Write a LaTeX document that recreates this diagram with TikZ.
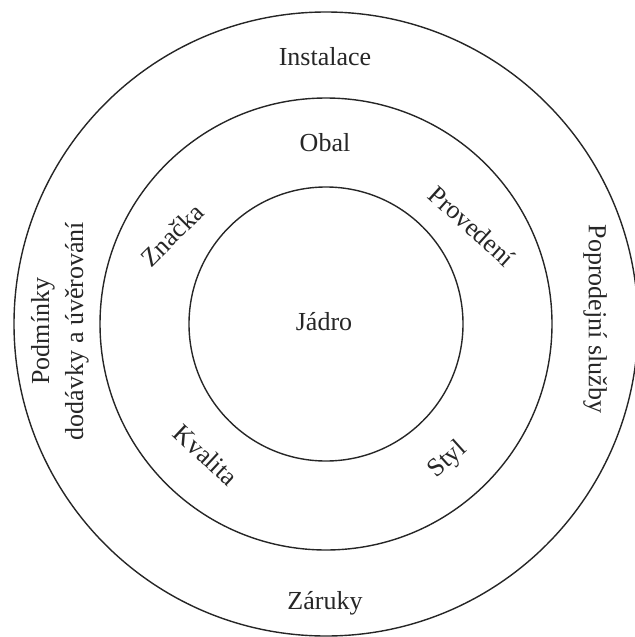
\documentclass[tikz,border=0pt]{standalone}
\usepackage{fontspec}
\setmainfont{Liberation Serif}
\usepackage{tikz}
\usetikzlibrary{positioning}

\begin{document}
\begin{tikzpicture}[x=0.5pt, y=-0.5pt, line width=0.7pt,
  lbl/.style={font=\fontsize{13}{17}\selectfont, text=black!85, inner sep=0pt, align=center}]
  \useasboundingbox (0,0) rectangle (634,637);
  \coordinate (c) at (326,324);
  \draw[black!85] (c) circle[radius=68.5pt];
  \draw[black!85] (c) circle[radius=113pt];
  \draw[black!85] (c) circle[radius=156pt];
  % core
  \node[lbl] (jadro) at (324,322) {Jádro};
  % middle ring
  \node[lbl] (obal) at (325,143) {Obal};
  \node[lbl, rotate=45] (znacka) at (172,235) {Značka};
  \node[lbl, rotate=-42] (provedeni) at (472,226) {Provedení};
  \node[lbl, rotate=-43] (kvalita) at (206,455) {Kvalita};
  \node[lbl, rotate=42] (styl) at (448,460) {Styl};
  % outer ring
  \node[lbl] (instalace) at (325,57) {Instalace};
  \node[lbl] (zaruky) at (325,603) {Záruky};
  \node[lbl, rotate=90] (podminky) at (60,331) {Podmínky\\dodávky a úvěrování};
  \node[lbl, rotate=-90] (sluzby) at (595,319) {Poprodejní služby};
\end{tikzpicture}
\end{document}
